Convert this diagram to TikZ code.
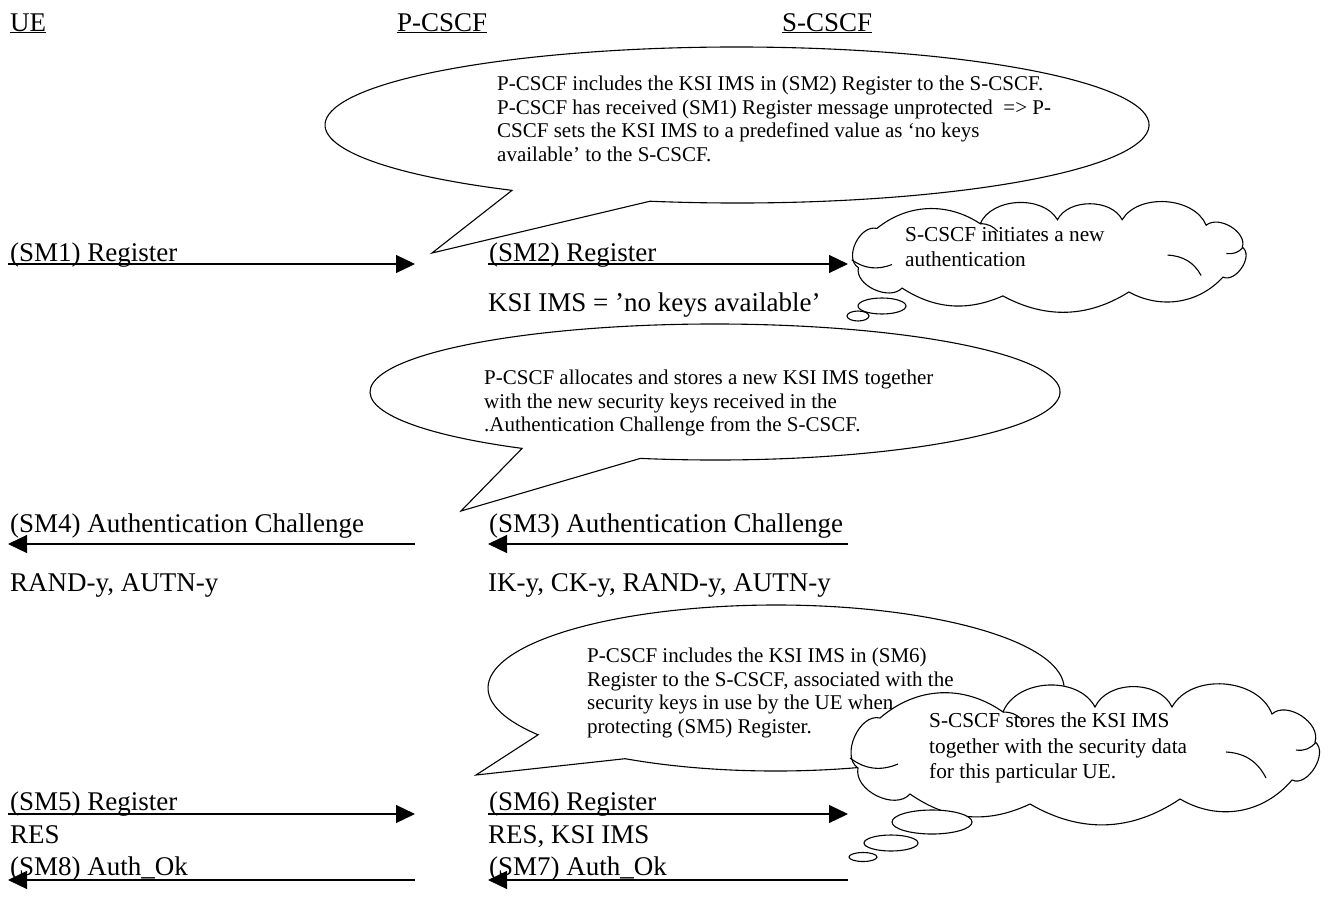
\documentclass[tikz,border=0pt]{standalone}
\usepackage{fontspec}
\setmainfont{Liberation Serif}
\usetikzlibrary{arrows.meta}

% outline of the thought cloud, drawn at the size of the lower one
\newcommand{\cloudline}{(858,768) to[bend left=80] (880,718) to[bend left=38] (1003,712)
  to[bend left=65] (1095,707) to[bend left=65] (1172,707)
  to[bend left=65] (1272,714) to[bend left=75] (1315,742)
  to[bend left=85] (1292,780) to[bend left=40] (1180,799)
  to[bend left=32] (1030,804) to[bend left=30] (910,794)
  to[bend left=75] (858,768) -- cycle}
\newcommand{\cloudfolds}{(850,758) to[bend right=30] (898,764)
  (1226,752) to[bend left=30] (1266,778)
  (1316,742) to[bend left=30] (1296,750)
  (1003,712) to[bend left=25] (1024,722)}

\tikzset{
  msg/.style={line width=1.2pt,-{Triangle[length=19pt,width=18pt]}},
  lbl/.style={anchor=base west,inner sep=0pt,font=\fontsize{27}{31}\selectfont},
  note/.style={anchor=north west,inner sep=0pt,align=left,font=\fontsize{21}{23.5}\selectfont},
  think/.style={anchor=north west,inner sep=0pt,align=left,font=\fontsize{21.3}{25.5}\selectfont},
  bubble/.style={draw,fill=white,line width=1.1pt},
}

\begin{document}
\begin{tikzpicture}[x=1pt,y=-1pt]
\useasboundingbox (0,0) rectangle (1333,910);

% headers
\node[lbl] (ue) at (10,31) {\underline{UE}};
\node[lbl] (pcscf) at (397,31) {\underline{P-CSCF}};
\node[lbl] (scscf) at (782,31) {\underline{S-CSCF}};

% first callout
\coordinate (c1) at (737,125);
\coordinate (tip1) at (432,253);
\draw[bubble] (c1) ++(102.2:412 and 78) arc[start angle=102.2,end angle=-236.9,x radius=412,y radius=78] -- (tip1) -- cycle;
\node[note] (t1) at (497,76) {P-CSCF includes the KSI IMS in (SM2) Register to the S-CSCF.\\
P-CSCF has received (SM1) Register message unprotected\ \ => P-\\
CSCF sets the KSI IMS to a predefined value as ‘no keys\\
available’ to the S-CSCF.};

% SM1, SM2
\coordinate (ue1) at (8,264);
\coordinate (pc1) at (415,264);
\coordinate (pc2) at (488,264);
\coordinate (sc2) at (848,264);
\draw[msg] (ue1) -- (pc1);
\draw[msg] (pc2) -- (sc2);
\node[lbl] (m1) at (10,261) {(SM1) Register};
\node[lbl] (m2) at (489,261) {(SM2) Register};
\node[lbl] (k2) at (488,311) {KSI IMS = ’no keys available’};

% cloud 1
\begin{scope}[shift={(850,197)},xscale=0.84,yscale=0.785,shift={(-848,-678)}]
\draw[bubble] \cloudline;
\draw[line width=1.1pt] \cloudfolds;
\end{scope}
\node[think] (t2) at (905,227) {S-CSCF initiates a new\\authentication};
\draw[bubble] (882,306) ellipse[x radius=24,y radius=8];
\draw[bubble] (858,316) ellipse[x radius=11,y radius=5];

% second callout
\coordinate (c2) at (715,392);
\coordinate (tip2) at (461,511);
\draw[bubble] (c2) ++(102.5:345 and 68) arc[start angle=102.5,end angle=-236,x radius=345,y radius=68] -- (tip2) -- cycle;
\node[note] (t3) at (484,370) {P-CSCF allocates and stores a new KSI IMS together\\
with the new security keys received in the\\
.Authentication Challenge from the S-CSCF.};

% SM3, SM4
\coordinate (ue4) at (8,544);
\coordinate (pc4) at (415,544);
\coordinate (pc3) at (488,544);
\coordinate (sc3) at (848,544);
\draw[msg] (pc4) -- (ue4);
\draw[msg] (sc3) -- (pc3);
\node[lbl] (m4) at (10,532) {(SM4) Authentication Challenge};
\node[lbl] (m3) at (489,532) {(SM3) Authentication Challenge};
\node[lbl] (p4) at (10,591) {RAND-y, AUTN-y};
\node[lbl] (p3) at (488,591) {IK-y, CK-y, RAND-y, AUTN-y};

% third callout
\coordinate (c3) at (776,688);
\coordinate (tip3) at (476,775);
\draw[bubble] (c3) ++(121.6:288 and 83) arc[start angle=121.6,end angle=-214.3,x radius=288,y radius=83] -- (tip3) -- cycle;
\node[note] (t4) at (587,648) {P-CSCF includes the KSI IMS in (SM6)\\
Register to the S-CSCF, associated with the\\
security keys in use by the UE when\\
protecting (SM5) Register.};

% cloud 2
\draw[bubble] \cloudline;
\draw[line width=1.1pt] \cloudfolds;
\node[think] (t5) at (929,713) {S-CSCF stores the KSI IMS\\
together with the security data\\
for this particular UE.};
\draw[bubble] (932,822) ellipse[x radius=40,y radius=12];
\draw[bubble] (891,843) ellipse[x radius=27,y radius=8];
\draw[bubble] (863,857) ellipse[x radius=14,y radius=4.5];

% SM5 .. SM8
\coordinate (ue5) at (8,814);
\coordinate (pc5) at (415,814);
\coordinate (pc6) at (488,814);
\coordinate (sc6) at (848,814);
\draw[msg] (ue5) -- (pc5);
\draw[msg] (pc6) -- (sc6);
\node[lbl] (m5) at (10,810) {(SM5) Register};
\node[lbl] (m6) at (489,810) {(SM6) Register};
\node[lbl] (r5) at (10,843) {RES};
\node[lbl] (r6) at (488,843) {RES, KSI IMS};

\coordinate (ue8) at (8,880);
\coordinate (pc8) at (415,880);
\coordinate (pc7) at (488,880);
\coordinate (sc7) at (848,880);
\draw[msg] (pc8) -- (ue8);
\draw[msg] (sc7) -- (pc7);
\node[lbl] (m8) at (10,875) {(SM8) Auth\_Ok};
\node[lbl] (m7) at (489,875) {(SM7) Auth\_Ok};
\end{tikzpicture}
\end{document}
